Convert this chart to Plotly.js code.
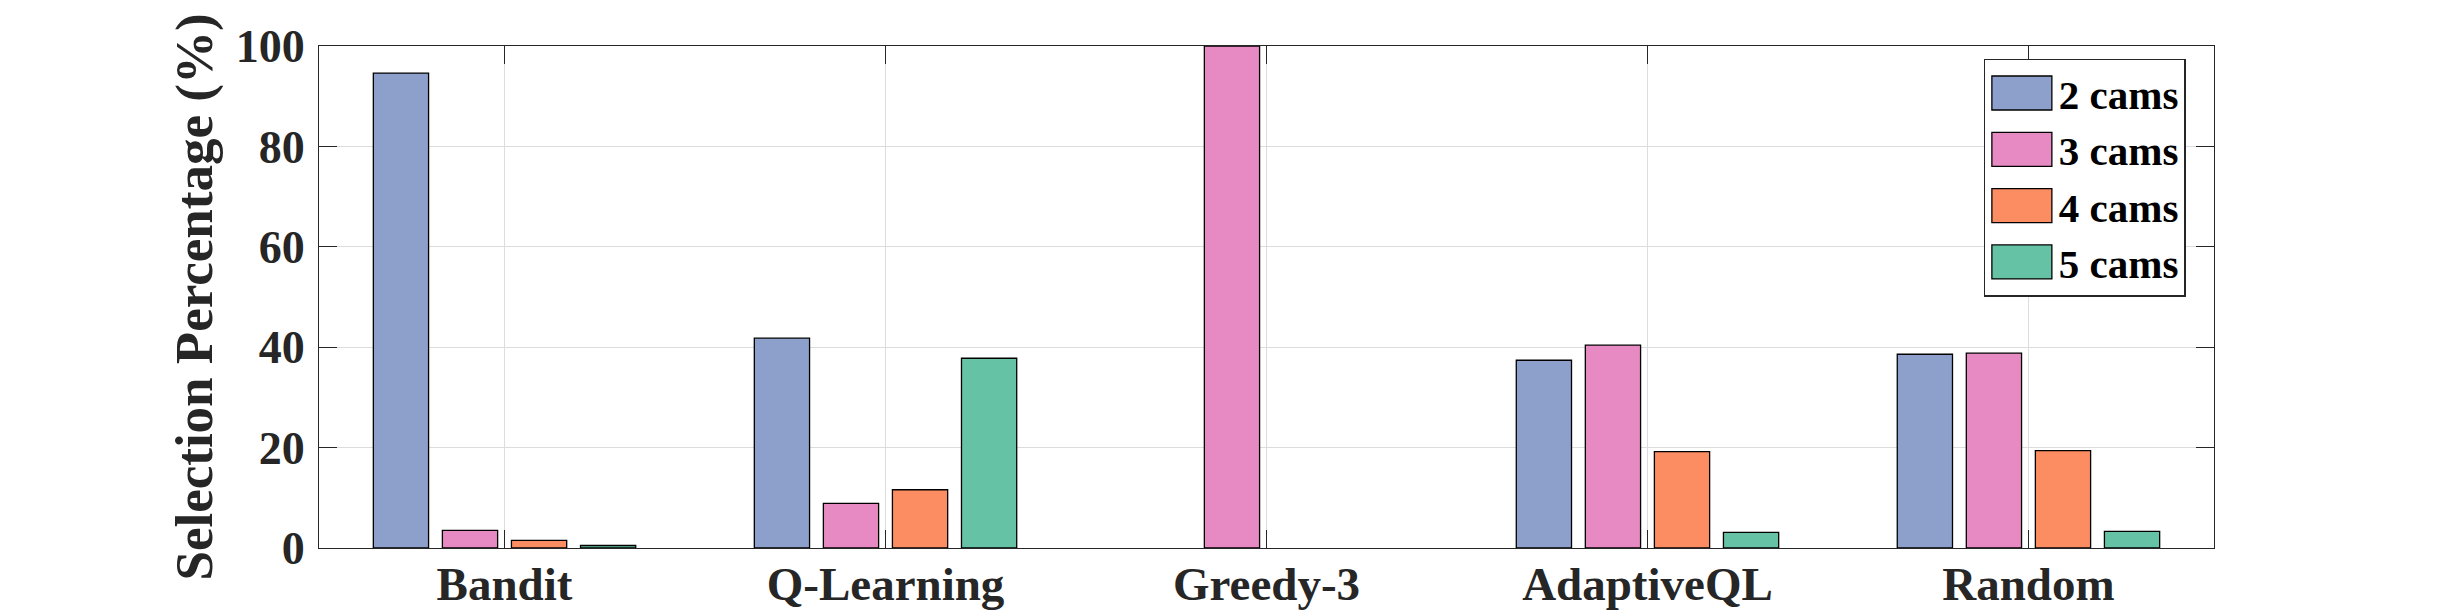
<!DOCTYPE html>
<html>
<head>
<meta charset="utf-8">
<script src="https://cdn.plot.ly/plotly-3.0.1.min.js"></script>
<style>html,body{margin:0;padding:0;background:#fff;}#chart{width:2448px;height:616px;}</style>
</head>
<body>
<div id="chart"></div>
<script>
const categories = ['Bandit', 'Q-Learning', 'Greedy-3', 'AdaptiveQL', 'Random'];
const seriesNames = ['2 cams', '3 cams', '4 cams', '5 cams'];
const cams2 = [94.6, 41.8, 0, 37.4, 38.6];
const cams3 = [3.5, 8.9, 100, 40.4, 38.8];
const cams4 = [1.5, 11.6, 0, 19.2, 19.4];
const cams5 = [0.5, 37.8, 0, 3.1, 3.3];
const yTicks = [0, 20, 40, 60, 80, 100];
const colors = ['#8DA0CB', '#E78AC3', '#FC8D62', '#66C2A5'];

const FONT = 'Liberation Serif, Times New Roman, serif';
const allSeries = [cams2, cams3, cams4, cams5];
const traces = allSeries.map((vals, i) => ({
  type: 'bar',
  name: seriesNames[i],
  x: categories,
  y: vals,
  marker: {color: colors[i], line: {color: '#000000', width: vals.map(v => v === 0 ? 0 : 1.3)}},
  hoverinfo: 'x+y+name'
}));

const layout = {
  width: 2448,
  height: 616,
  margin: {l: 319, r: 234, t: 46, b: 68},
  paper_bgcolor: '#ffffff',
  plot_bgcolor: '#ffffff',
  barmode: 'group',
  bargap: 0.275,
  bargroupgap: 0.2,
  showlegend: true,
  legend: {
    x: 0.985, xanchor: 'right',
    y: 0.975, yanchor: 'top',
    bgcolor: '#ffffff',
    bordercolor: '#262626',
    borderwidth: 1.3,
    font: {family: FONT, size: 41, color: '#000000', weight: 'bold'},
    itemwidth: 64,
    tracegroupgap: 0
  },
  xaxis: {
    type: 'category',
    range: [-0.487, 4.487],
    showline: true, linecolor: '#262626', linewidth: 1.3,
    mirror: 'ticks',
    ticks: 'inside', ticklen: 18, tickwidth: 1.3, tickcolor: '#262626',
    showgrid: true, gridcolor: '#dcdcdc', gridwidth: 1,
    tickfont: {family: FONT, size: 47, color: '#262626', weight: 'bold'},
    ticklabelstandoff: -6,
    zeroline: false
  },
  yaxis: {
    range: [0, 100],
    tickvals: yTicks,
    ticktext: yTicks.map(String),
    showline: true, linecolor: '#262626', linewidth: 1.3,
    mirror: 'ticks',
    ticks: 'inside', ticklen: 18, tickwidth: 1.3, tickcolor: '#262626',
    showgrid: true, gridcolor: '#dcdcdc', gridwidth: 1,
    zeroline: false,
    tickfont: {family: FONT, size: 46, color: '#262626', weight: 'bold'},
    ticklabelstandoff: 4,
    title: {
      text: 'Selection Percentage (%)',
      font: {family: FONT, size: 53, color: '#262626', weight: 'bold'},
      standoff: 6
    }
  }
};

function enlargeSwatches() {
  document.querySelectorAll('#chart .legend .legendpoints path').forEach(p => {
    p.setAttribute('d', 'M30,17H-30V-17H30Z');
    p.style.strokeWidth = '1.3px';
    p.style.stroke = '#000000';
  });
}

Plotly.newPlot('chart', traces, layout, {displayModeBar: false}).then(gd => {
  enlargeSwatches();
  gd.on('plotly_afterplot', enlargeSwatches);
});
</script>
</body>
</html>
